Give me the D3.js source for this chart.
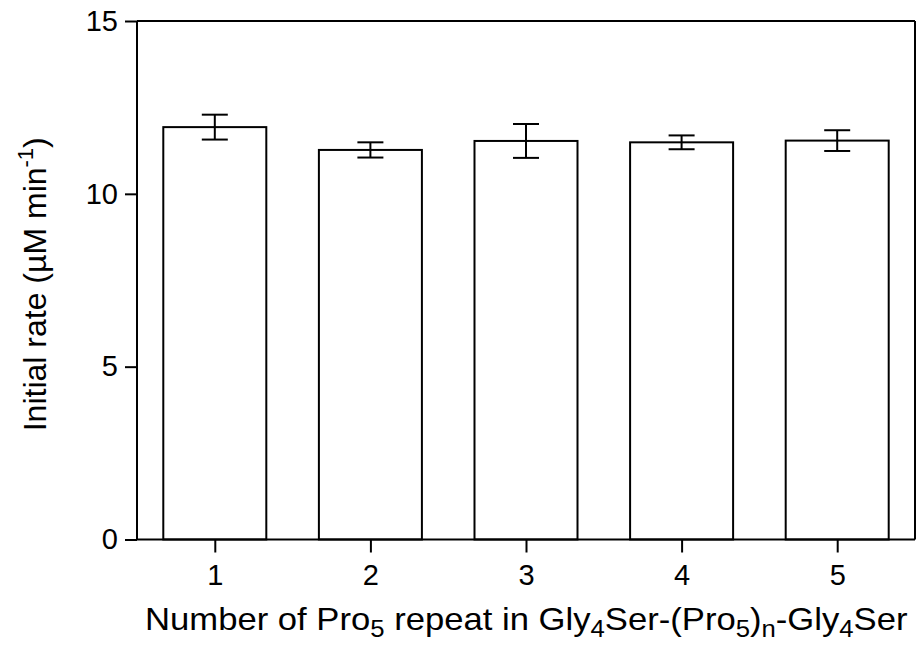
<!DOCTYPE html>
<html>
<head>
<meta charset="utf-8">
<script src="https://cdn.jsdelivr.net/npm/d3@7"></script>
<style>
  html, body { margin: 0; padding: 0; background: #fff; }
  svg { display: block; font-family: "Liberation Sans", Arial, sans-serif; }
</style>
</head>
<body>
<svg id="chart" width="917" height="646"></svg>
<script>
// Initial rate for each number of Pro5 repeats, with error (±)
const repeats = [1, 2, 3, 4, 5];
const rates = [11.93, 11.27, 11.53, 11.49, 11.54];
const errors = [0.36, 0.22, 0.49, 0.20, 0.30];
const yTicks = [0, 5, 10, 15];

const svg = d3.select("#chart");
const plotLeft = 137, plotRight = 915, plotTop = 21, plotBottom = 539.5;

const x = d3.scaleLinear().domain([0.5, 5.5]).range([plotLeft, plotRight]);
const y = d3.scaleLinear().domain([0, 15]).range([plotBottom, plotTop]);
const barW = (x(2) - x(1)) * 0.662;
const capW = 26;

const data = repeats.map((r, i) => ({ r, v: rates[i], e: errors[i] }));

// bars
svg.append("g")
  .selectAll("rect")
  .data(data)
  .join("rect")
  .attr("x", d => x(d.r) - barW / 2)
  .attr("y", d => y(d.v))
  .attr("width", barW)
  .attr("height", d => y(0) - y(d.v))
  .attr("fill", "#fff")
  .attr("stroke", "#000")
  .attr("stroke-width", 2);

// error bars
const eb = svg.append("g").attr("stroke", "#000").attr("stroke-width", 2);
eb.selectAll("line.v").data(data).join("line").attr("class", "v")
  .attr("x1", d => x(d.r)).attr("x2", d => x(d.r))
  .attr("y1", d => y(d.v + d.e)).attr("y2", d => y(d.v - d.e));
eb.selectAll("line.t").data(data).join("line").attr("class", "t")
  .attr("x1", d => x(d.r) - capW / 2).attr("x2", d => x(d.r) + capW / 2)
  .attr("y1", d => y(d.v + d.e)).attr("y2", d => y(d.v + d.e));
eb.selectAll("line.b").data(data).join("line").attr("class", "b")
  .attr("x1", d => x(d.r) - capW / 2).attr("x2", d => x(d.r) + capW / 2)
  .attr("y1", d => y(d.v - d.e)).attr("y2", d => y(d.v - d.e));

// frame: top and right edges
svg.append("line").attr("x1", plotLeft).attr("x2", plotRight).attr("y1", plotTop).attr("y2", plotTop)
  .attr("stroke", "#000").attr("stroke-width", 2);
svg.append("line").attr("x1", plotRight).attr("x2", plotRight).attr("y1", plotTop).attr("y2", plotBottom)
  .attr("stroke", "#000").attr("stroke-width", 2);

// axes
const yAxis = svg.append("g")
  .attr("transform", `translate(${plotLeft},0)`)
  .call(d3.axisLeft(y).tickValues(yTicks).tickFormat(d3.format("d"))
    .tickSize(12).tickPadding(7).tickSizeOuter(0));
const xAxis = svg.append("g")
  .attr("transform", `translate(0,${plotBottom})`)
  .call(d3.axisBottom(x).tickValues(repeats).tickFormat(d3.format("d"))
    .tickSize(13).tickPadding(12).tickSizeOuter(0));

[yAxis, xAxis].forEach(a => {
  a.select(".domain").attr("stroke", "#000").attr("stroke-width", 2);
  a.selectAll(".tick line").attr("stroke", "#000").attr("stroke-width", 2);
  a.selectAll(".tick text").attr("font-size", 29).attr("fill", "#000")
    .attr("font-family", "'Liberation Sans', Arial, sans-serif");
});
xAxis.select(".domain").attr("d", `M${plotLeft},0H${plotRight}`);
yAxis.select(".domain").attr("d", `M0,${plotBottom}V${plotTop}`);

// x-axis title with subscripts, stretched to span 145..908
const xTitleLeft = 145, xTitleRight = 908;
const xtG = svg.append("g");
const xt = xtG.append("text")
  .attr("x", 0)
  .attr("y", 630)
  .attr("font-size", 31)
  .attr("fill", "#000");
const parts = [
  ["Number of Pro", 0], ["5", 1], [" repeat in Gly", 0], ["4", 1], ["Ser-(Pro", 0],
  ["5", 1], [")", 0], ["n", 1], ["-Gly", 0], ["4", 1], ["Ser", 0]
];
let shifted = false;
parts.forEach(([t, sub]) => {
  const ts = xt.append("tspan").text(t);
  if (sub) { ts.attr("font-size", 23).attr("dy", shifted ? 0 : 7); shifted = true; }
  else if (shifted) { ts.attr("dy", -7); shifted = false; }
});
const xb = xt.node().getBBox();
const sx = (xTitleRight - xTitleLeft) / xb.width;
xtG.attr("transform", `translate(${xTitleLeft - xb.x * sx},0) scale(${sx},1)`);

// y-axis title with superscript
const yt = svg.append("text")
  .attr("transform", `translate(46,${(plotTop + plotBottom) / 2 + 4}) rotate(-90)`)
  .attr("text-anchor", "middle")
  .attr("font-size", 32)
  .attr("fill", "#000");
yt.append("tspan").text("Initial rate (\u00b5M min");
yt.append("tspan").text("-1").attr("font-size", 22).attr("dy", -13);
yt.append("tspan").text(")").attr("dy", 13);
</script>
</body>
</html>
